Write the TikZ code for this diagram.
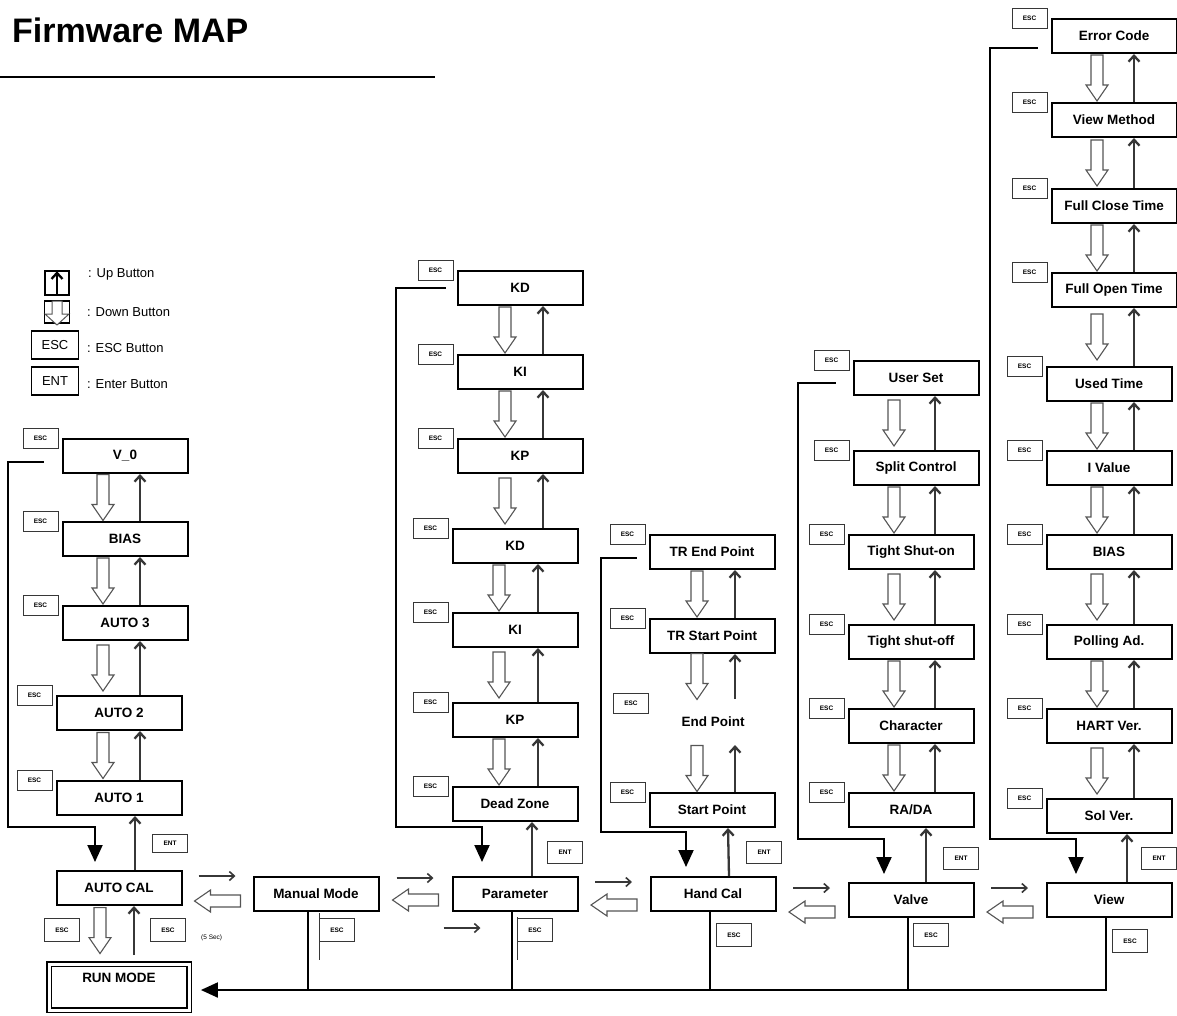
\documentclass[tikz,border=0pt]{standalone}
\usepackage{fontspec}
\setmainfont{Liberation Sans}
\usetikzlibrary{arrows.meta,positioning,calc}
\definecolor{arrgrey}{RGB}{55,55,55}
\definecolor{hollowgrey}{RGB}{85,85,85}

\begin{document}
\begin{tikzpicture}[x=1pt, y=-1pt,
    box/.style={rectangle, draw=black, line width=2pt, fill=white,
        minimum width=125pt, minimum height=34pt, inner sep=0pt,
        font=\fontsize{13.5}{15}\selectfont\bfseries},
    esc/.style={rectangle, draw=arrgrey, line width=1pt, fill=white,
        minimum width=35pt, minimum height=20pt, inner sep=0pt,
        font=\fontsize{6.5}{7}\selectfont\bfseries},
    legbox/.style={rectangle, draw=black, line width=1.5pt, inner sep=0pt},
    legtxt/.style={anchor=west, inner sep=0pt, font=\fontsize{13}{15}\selectfont},
    uparr/.style={-{Straight Barb[length=6pt, width=11pt]}, line width=2.3pt, arrgrey},
    thinarr/.style={-{Straight Barb[length=5pt, width=9pt]}, line width=1.6pt, arrgrey},
    ret/.style={-{Triangle[length=17pt, width=15pt]}, line width=2pt, black},
    bus/.style={line width=2pt, black},
    hollow/.pic={\draw[hollowgrey, line width=1.1pt, fill=white]
        (-6,-23) -- (6,-23) -- (6,7) -- (11,7) -- (0,23) -- (-11,7) -- (-6,7) -- cycle;}
]
    \useasboundingbox (0,0) rectangle (1177,1015);

    % title and legend
    \node[anchor=base west, inner sep=0pt, font=\fontsize{34}{40}\selectfont\bfseries] (title) at (12,42) {Firmware MAP};
    \draw[line width=2pt] (0,77) -- (435,77);

    \node[legbox, minimum width=24pt, minimum height=24pt] (lgup) at (57,283) {};
    \draw[uparr, black] ([yshift=1pt]lgup.south) -- ([yshift=-1pt]lgup.north);
    \node[legbox, minimum width=25pt, minimum height=22pt] (lgdn) at (57,312) {};
    \draw[hollowgrey, line width=1pt, fill=white] ($(lgdn.center)+(-5,-11)$) -- ++(10,0) -- ++(0,13)
        -- ++(7,0) -- ++(-12,11) -- ++(-12,-11) -- ++(7,0) -- cycle;
    \node[legbox, minimum width=47pt, minimum height=28pt, font=\fontsize{13}{15}\selectfont] (lgesc) at (55,345) {ESC};
    \node[legbox, minimum width=47pt, minimum height=28pt, font=\fontsize{13}{15}\selectfont] (lgent) at (55,381) {ENT};
    \node[legtxt] (lguptxt) at (88,274) {: Up Button};
    \node[legtxt] (lgdntxt) at (87,312) {: Down Button};
    \node[legtxt] (lgesctxt) at (87,348) {: ESC Button};
    \node[legtxt] (lgenttxt) at (87,384) {: Enter Button};

    % auto column
    \node[box] (v0) at (125,456) {V\_0};
    \node[box] (bias1) at (125,539) {BIAS};
    \node[box] (auto3) at (125,623) {AUTO 3};
    \node[box] (auto2) at (119,713) {AUTO 2};
    \node[box] (auto1) at (119,798) {AUTO 1};
    \node[box] (autocal) at (119,888) {AUTO CAL};
    \node[box, minimum width=140pt, minimum height=46pt, double, double distance=3pt,
        line width=1.8pt, text height=9pt, text depth=18pt] (runmode) at (119,987) {RUN MODE};

    % main row
    \node[box] (manual) at (316,894) {Manual Mode};
    \node[box] (param) at (515,894) {Parameter};
    \node[box] (handcal) at (713,894) {Hand Cal};
    \node[box] (valve) at (911,900) {Valve};
    \node[box] (view) at (1109,900) {View};

    % parameter column
    \node[box] (kd1) at (520,288) {KD};
    \node[box] (ki1) at (520,372) {KI};
    \node[box] (kp1) at (520,456) {KP};
    \node[box] (kd2) at (515,546) {KD};
    \node[box] (ki2) at (515,630) {KI};
    \node[box] (kp2) at (515,720) {KP};
    \node[box] (dead) at (515,804) {Dead Zone};

    % hand cal column
    \node[box] (trend) at (712,552) {TR End Point};
    \node[box] (trstart) at (712,636) {TR Start Point};
    \node[box, draw=none, fill=none, minimum height=44pt] (endpt) at (713,722) {End Point};
    \node[box] (startpt) at (712,810) {Start Point};

    % valve column
    \node[box] (userset) at (916,378) {User Set};
    \node[box] (split) at (916,468) {Split Control};
    \node[box] (shuton) at (911,552) {Tight Shut-on};
    \node[box] (shutoff) at (911,642) {Tight shut-off};
    \node[box] (charac) at (911,726) {Character};
    \node[box] (rada) at (911,810) {RA/DA};

    % view column
    \node[box] (errcode) at (1114,36) {Error Code};
    \node[box] (viewmeth) at (1114,120) {View Method};
    \node[box] (fullclose) at (1114,206) {Full Close Time};
    \node[box] (fullopen) at (1114,290) {Full Open Time};
    \node[box] (used) at (1109,384) {Used Time};
    \node[box] (ivalue) at (1109,468) {I Value};
    \node[box] (bias2) at (1109,552) {BIAS};
    \node[box] (polling) at (1109,642) {Polling Ad.};
    \node[box] (hart) at (1109,726) {HART Ver.};
    \node[box] (solver) at (1109,816) {Sol Ver.};

    % esc flags
    \foreach \n in {v0,bias1,auto3,auto2,auto1,kd1,ki1,kp1,kd2,ki2,kp2,dead,
        trend,trstart,startpt,userset,split,shuton,shutoff,charac,rada,
        errcode,viewmeth,fullclose,fullopen,used,ivalue,bias2,polling,hart,solver}
        \node[esc, left=3pt of \n.north west] (esc-\n) {ESC};
    \node[esc] (esc-endpt) at (631,703) {ESC};
    \node[esc, minimum height=23pt] (esc-acl) at (62,930) {ESC};
    \node[esc, minimum height=23pt] (esc-acr) at (168,930) {ESC};
    \node[anchor=west, inner sep=0pt, font=\fontsize{6.5}{7}\selectfont] (fivesec) at (201,938) {(5 Sec)};
    \node[esc, minimum height=23pt] (esc-man) at (337,930) {ESC};
    \node[esc, minimum height=23pt] (esc-par) at (535,930) {ESC};
    \node[esc, minimum height=23pt] (esc-hc) at (734,935) {ESC};
    \node[esc, minimum height=23pt] (esc-val) at (931,935) {ESC};
    \node[esc, minimum height=23pt] (esc-vw) at (1130,941) {ESC};
    \draw[arrgrey, line width=0.6pt] ([yshift=5pt]esc-man.north west) -- ([yshift=-18pt]esc-man.south west);
    \draw[arrgrey, line width=0.6pt] ([yshift=1pt]esc-par.north west) -- ([yshift=-18pt]esc-par.south west);

    % ent flags
    \node[esc, minimum height=18pt] (ent-ac) at (170,843) {ENT};
    \node[esc, minimum height=22pt] (ent-par) at (565,852) {ENT};
    \node[esc, minimum height=22pt] (ent-hc) at (764,852) {ENT};
    \node[esc, minimum height=22pt] (ent-val) at (961,858) {ENT};
    \node[esc, minimum height=22pt] (ent-vw) at (1159,858) {ENT};

    % up / down between menu items
    \coordinate (ldn) at (103,0);  \coordinate (lup) at (140,0);
    \coordinate (pdn) at (505,0);  \coordinate (pup) at (543,0);
    \coordinate (qdn) at (499,0);  \coordinate (qup) at (538,0);
    \coordinate (hdn) at (697,0);  \coordinate (hup) at (735,0);
    \coordinate (vdn) at (894,0);  \coordinate (vup) at (935,0);
    \coordinate (wdn) at (1097,0); \coordinate (wup) at (1134,0);
    \foreach \a/\b/\d/\u in {v0/bias1/ldn/lup, bias1/auto3/ldn/lup, auto3/auto2/ldn/lup, auto2/auto1/ldn/lup,
        kd1/ki1/pdn/pup, ki1/kp1/pdn/pup, kp1/kd2/pdn/pup, kd2/ki2/qdn/qup, ki2/kp2/qdn/qup, kp2/dead/qdn/qup,
        trend/trstart/hdn/hup, trstart/endpt/hdn/hup, endpt/startpt/hdn/hup,
        userset/split/vdn/vup, split/shuton/vdn/vup, shuton/shutoff/vdn/vup, shutoff/charac/vdn/vup, charac/rada/vdn/vup,
        errcode/viewmeth/wdn/wup, viewmeth/fullclose/wdn/wup, fullclose/fullopen/wdn/wup, fullopen/used/wdn/wup,
        used/ivalue/wdn/wup, ivalue/bias2/wdn/wup, bias2/polling/wdn/wup, polling/hart/wdn/wup, hart/solver/wdn/wup}{
        \pic at ($(\a.south -| \d)!0.5!(\b.north -| \d)$) {hollow};
        \draw[uparr] (\b.north -| \u) -- (\a.south -| \u);
    }

    % enter into menus
    \draw[uparr] ([xshift=16pt]autocal.north) -- ([xshift=16pt]auto1.south);
    \draw[uparr] ([xshift=17pt]param.north) -- ([xshift=17pt]dead.south);
    \draw[uparr] ([xshift=16pt]handcal.north) -- ([xshift=16pt]startpt.south);
    \draw[uparr] ([xshift=15pt]valve.north) -- ([xshift=15pt]rada.south);
    \draw[uparr] ([xshift=18pt]view.north) -- ([xshift=18pt]solver.south);

    % auto cal and run mode
    \pic at ($(autocal.south)!0.5!(runmode.north)+(-19,-4)$) {hollow};
    \draw[uparr] ([xshift=15pt,yshift=8pt]runmode.north) -- ([xshift=15pt]autocal.south);

    % esc back to the main row
    \draw[ret] ([shift={(-18,6)}]v0.west) -- ++(-36,0) |- ([shift={(-24,-43)}]autocal.north) -- ([shift={(-24,-8)}]autocal.north);
    \draw[ret] ([shift={(-11,0)}]kd1.west) -- ++(-50,0) |- ([shift={(-33,-49)}]param.north) -- ([shift={(-33,-14)}]param.north);
    \draw[ret] ([shift={(-12,6)}]trend.west) -- ++(-36,0) |- ([shift={(-27,-44)}]handcal.north) -- ([shift={(-27,-9)}]handcal.north);
    \draw[ret] ([shift={(-17,5)}]userset.west) -- ++(-38,0) |- ([shift={(-27,-43)}]valve.north) -- ([shift={(-27,-8)}]valve.north);
    \draw[ret] ([shift={(-13,12)}]errcode.west) -- ++(-48,0) |- ([shift={(-33,-43)}]view.north) -- ([shift={(-33,-8)}]view.north);

    % main row left / right
    \draw[thinarr] ($(autocal.east)!0.5!(manual.west)+(-19,-15)$) -- ++(37,0);
    \pic[rotate=-90] at ($(autocal.east)!0.5!(manual.west)+(0,10)$) {hollow};
    \draw[thinarr] ($(manual.east)!0.5!(param.west)+(-19,-16)$) -- ++(37,0);
    \pic[rotate=-90] at ($(manual.east)!0.5!(param.west)+(0,6)$) {hollow};
    \draw[thinarr] ([shift={(-8,16)}]param.south west) -- ++(37,0);
    \draw[thinarr] ($(param.east)!0.5!(handcal.west)+(-19,-12)$) -- ++(37,0);
    \pic[rotate=-90] at ($(param.east)!0.5!(handcal.west)+(0,11)$) {hollow};
    \draw[thinarr] ($(handcal.east)!0.5!(valve.west)+(-19,-9)$) -- ++(37,0);
    \pic[rotate=-90] at ($(handcal.east)!0.5!(valve.west)+(0,15)$) {hollow};
    \draw[thinarr] ($(valve.east)!0.5!(view.west)+(-19,-12)$) -- ++(37,0);
    \pic[rotate=-90] at ($(valve.east)!0.5!(view.west)+(0,12)$) {hollow};

    % esc to run mode
    \draw[ret] ([xshift=-3pt]view.south) |- ([xshift=11pt,yshift=-3pt]runmode.east);
    \draw[bus] ([xshift=-8pt]manual.south) -- ++(0,79);
    \draw[bus] ([xshift=-3pt]param.south) -- ++(0,79);
    \draw[bus] ([xshift=-3pt]handcal.south) -- ++(0,79);
    \draw[bus] ([xshift=-3pt]valve.south) -- ++(0,73);
\end{tikzpicture}
\end{document}
